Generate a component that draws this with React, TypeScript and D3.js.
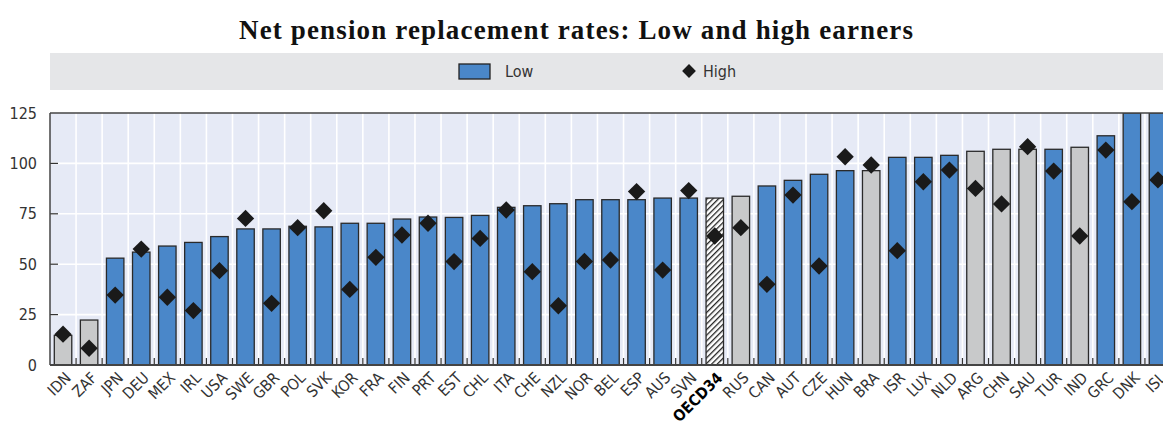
import * as d3 from "d3";
import { useEffect, useRef } from "react";

const COUNTRIES = [
  "IDN", "ZAF", "JPN", "DEU", "MEX", "IRL", "USA", "SWE", "GBR", "POL", "SVK",
  "KOR", "FRA", "FIN", "PRT", "EST", "CHL", "ITA", "CHE", "NZL", "NOR", "BEL",
  "ESP", "AUS", "SVN", "OECD34", "RUS", "CAN", "AUT", "CZE", "HUN", "BRA", "ISR",
  "LUX", "NLD", "ARG", "CHN", "SAU", "TUR", "IND", "GRC", "DNK", "ISL",
];

const LOW = [
  14.7, 22.3, 53, 56, 59, 60.8, 63.7, 67.5, 67.5, 68.8, 68.5,
  70.3, 70.3, 72.4, 73.4, 73.2, 74.2, 78.2, 79, 80, 82, 82,
  82, 82.8, 82.8, 82.8, 83.7, 88.8, 91.6, 94.6, 96.4, 96.4, 103,
  103, 104, 106, 107, 107, 107, 108, 113.7, 128, 128,
];

const HIGH = [
  15.3, 8.3, 34.7, 57.5, 33.6, 27, 46.8, 72.7, 30.6, 68.1, 76.5,
  37.5, 53.4, 64.5, 70.3, 51.3, 62.8, 76.9, 46.3, 29.4, 51.4, 52.1,
  86, 47.1, 86.5, 64, 68.1, 40, 84.3, 49.1, 103.3, 99.2, 56.7,
  90.9, 96.7, 87.6, 79.9, 108.3, 96.2, 64, 106.6, 81, 91.8,
];

// non-OECD countries drawn in grey
const PARTNERS = ["IDN", "ZAF", "RUS", "BRA", "ARG", "CHN", "SAU", "IND"];

const Y_TICKS = [0, 25, 50, 75, 100, 125];

const W = 1163;
const H = 432;
const PLOT = { left: 50, right: 1171, top: 113, bottom: 365 };
const BLUE = "#4a87c9";
const GREY = "#c8c9ca";
const LABEL_FONT = "'Liberation Sans Narrow', 'DejaVu Sans Condensed', sans-serif";

export default function App() {
  const ref = useRef<SVGGElement>(null);

  useEffect(() => {
    const g = d3.select(ref.current);
    g.selectAll("*").remove();

    const x = d3
      .scaleBand<string>()
      .domain(COUNTRIES)
      .range([PLOT.left, PLOT.right])
      .paddingInner(0.33)
      .paddingOuter(0.165);
    const y = d3.scaleLinear().domain([0, 125]).range([PLOT.bottom, PLOT.top]);

    const defs = g.append("defs");
    defs
      .append("clipPath")
      .attr("id", "plotclip")
      .append("rect")
      .attr("x", PLOT.left)
      .attr("y", PLOT.top)
      .attr("width", W - PLOT.left)
      .attr("height", PLOT.bottom - PLOT.top);
    const pat = defs
      .append("pattern")
      .attr("id", "hatch")
      .attr("patternUnits", "userSpaceOnUse")
      .attr("width", 4)
      .attr("height", 4)
      .attr("patternTransform", "rotate(45)");
    pat.append("rect").attr("width", 4).attr("height", 4).attr("fill", "#ffffff");
    pat
      .append("line")
      .attr("x1", 0)
      .attr("y1", 0)
      .attr("x2", 0)
      .attr("y2", 4)
      .attr("stroke", "#222")
      .attr("stroke-width", 2.6);

    // title
    g.append("text")
      .attr("x", 576)
      .attr("y", 39)
      .attr("text-anchor", "middle")
      .attr("textLength", 674)
      .attr("lengthAdjust", "spacing")
      .style("font-family", "'Liberation Serif', 'DejaVu Serif', serif")
      .style("font-weight", "bold")
      .style("font-size", "27px")
      .attr("fill", "#111")
      .text("Net pension replacement rates: Low and high earners");

    // legend band
    g.append("rect")
      .attr("x", PLOT.left)
      .attr("y", 53)
      .attr("width", W - PLOT.left)
      .attr("height", 37)
      .attr("fill", "#e5e6e8");
    g.append("rect")
      .attr("x", 459)
      .attr("y", 64)
      .attr("width", 31)
      .attr("height", 15)
      .attr("fill", BLUE)
      .attr("stroke", "#222")
      .attr("stroke-width", 1.3);
    g.append("text")
      .attr("x", 505)
      .attr("y", 77)
      .style("font-family", LABEL_FONT)
      .style("font-size", "16px")
      .attr("fill", "#333")
      .text("Low");
    g.append("path")
      .attr("d", d3.symbol(d3.symbolSquare, 95)())
      .attr("transform", "translate(689,71) rotate(45)")
      .attr("fill", "#1a1a1a");
    g.append("text")
      .attr("x", 703)
      .attr("y", 77)
      .style("font-family", LABEL_FONT)
      .style("font-size", "16px")
      .attr("fill", "#333")
      .text("High");

    const plot = g.append("g").attr("clip-path", "url(#plotclip)");

    plot
      .append("rect")
      .attr("x", PLOT.left)
      .attr("y", PLOT.top)
      .attr("width", PLOT.right - PLOT.left)
      .attr("height", PLOT.bottom - PLOT.top)
      .attr("fill", "#e6eaf6");

    // vertical grid between bars
    const step = x.step();
    const bounds = COUNTRIES.slice(1).map((c) => x(c)! - (step - x.bandwidth()) / 2);

    plot
      .selectAll("line.vgrid")
      .data(bounds)
      .enter()
      .append("line")
      .attr("x1", (d) => d)
      .attr("x2", (d) => d)
      .attr("y1", PLOT.top)
      .attr("y2", PLOT.bottom)
      .attr("stroke", "#fff")
      .attr("stroke-width", 1.6);

    plot
      .selectAll("line.hgrid")
      .data(Y_TICKS.slice(1, -1))
      .enter()
      .append("line")
      .attr("x1", PLOT.left)
      .attr("x2", PLOT.right)
      .attr("y1", (d) => y(d))
      .attr("y2", (d) => y(d))
      .attr("stroke", "#fff")
      .attr("stroke-width", 1.6);

    plot
      .selectAll("rect.bar")
      .data(COUNTRIES)
      .enter()
      .append("rect")
      .attr("x", (d) => x(d)!)
      .attr("width", x.bandwidth())
      .attr("y", (_, i) => y(Math.min(LOW[i], 125)))
      .attr("height", (_, i) => y(0) - y(Math.min(LOW[i], 125)))
      .attr("fill", (d) =>
        d === "OECD34" ? "url(#hatch)" : PARTNERS.includes(d) ? GREY : BLUE
      )
      .attr("stroke", "#2a2a2a")
      .attr("stroke-width", 1.3);

    // ticks
    plot
      .selectAll("line.xtick")
      .data(bounds)
      .enter()
      .append("line")
      .attr("x1", (d) => d)
      .attr("x2", (d) => d)
      .attr("y1", PLOT.bottom)
      .attr("y2", PLOT.bottom - 7)
      .attr("stroke", "#333")
      .attr("stroke-width", 1.2);

    plot
      .selectAll("line.ytick")
      .data(Y_TICKS.slice(1, -1))
      .enter()
      .append("line")
      .attr("x1", PLOT.left)
      .attr("x2", PLOT.left + 8)
      .attr("y1", (d) => y(d))
      .attr("y2", (d) => y(d))
      .attr("stroke", "#333")
      .attr("stroke-width", 1.2);

    plot
      .selectAll("path.high")
      .data(COUNTRIES)
      .enter()
      .append("path")
      .attr("d", d3.symbol(d3.symbolSquare, 150)())
      .attr(
        "transform",
        (d, i) => `translate(${x(d)! + x.bandwidth() / 2},${y(HIGH[i])}) rotate(45)`
      )
      .attr("fill", "#1a1a1a");

    // frame
    g.append("line")
      .attr("x1", PLOT.left)
      .attr("x2", W)
      .attr("y1", PLOT.top)
      .attr("y2", PLOT.top)
      .attr("stroke", "#444")
      .attr("stroke-width", 1.5);
    g.append("line")
      .attr("x1", PLOT.left)
      .attr("x2", PLOT.left)
      .attr("y1", PLOT.top)
      .attr("y2", PLOT.bottom)
      .attr("stroke", "#444")
      .attr("stroke-width", 1.5);
    g.append("line")
      .attr("x1", PLOT.left)
      .attr("x2", W)
      .attr("y1", PLOT.bottom)
      .attr("y2", PLOT.bottom)
      .attr("stroke", "#444")
      .attr("stroke-width", 1.8);

    // y labels
    g.selectAll("text.ylab")
      .data(Y_TICKS)
      .enter()
      .append("text")
      .attr("x", 37)
      .attr("y", (d) => y(d))
      .attr("dy", "0.35em")
      .attr("text-anchor", "end")
      .style("font-family", LABEL_FONT)
      .style("font-size", "16px")
      .attr("fill", "#333")
      .text((d) => d);

    // x labels
    g.selectAll("text.xlab")
      .data(COUNTRIES)
      .enter()
      .append("text")
      .attr(
        "transform",
        (d) => `translate(${x(d)! + x.bandwidth() / 2 + 5},${PLOT.bottom + 10}) rotate(-45)`
      )
      .attr("text-anchor", "end")
      .attr("dy", "0.35em")
      .style("font-family", LABEL_FONT)
      .style("font-size", "15.5px")
      .style("font-weight", (d) => (d === "OECD34" ? "bold" : "normal"))
      .attr("fill", (d) => (d === "OECD34" ? "#000" : "#333"))
      .text((d) => d);
  }, []);

  return (
    <div style={{ position: "absolute", left: 0, top: 0 }}>
      <svg width={W} height={H} style={{ display: "block", background: "#fff" }}>
        <g ref={ref} />
      </svg>
    </div>
  );
}
